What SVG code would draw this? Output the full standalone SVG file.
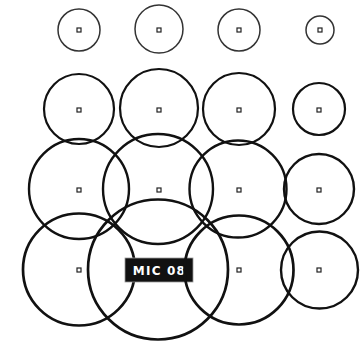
<svg xmlns="http://www.w3.org/2000/svg" width="364" height="341" viewBox="0 0 364 341">
<style>
.c{fill:none;stroke:#111}
.r1{stroke:#333;stroke-width:1.5}
.r2{stroke-width:2.2}
.r3{stroke-width:2.4}
.r4{stroke-width:2.7}
.m{fill:#fff;stroke:#222;stroke-width:1.2}
.lbl{font-family:"DejaVu Sans","Liberation Sans",sans-serif;font-weight:bold;font-size:12px;fill:#fff;letter-spacing:1.2px}
</style>
<rect width="364" height="341" fill="#fff"/>
<g id="row1">
<g id="n11"><circle class="c r1" cx="79" cy="30" r="21"/><rect class="m" x="77" y="28" width="4" height="4"/></g>
<g id="n12"><circle class="c r1" cx="159" cy="29" r="24"/><rect class="m" x="157" y="28" width="4" height="4"/></g>
<g id="n13"><circle class="c r1" cx="239" cy="30" r="21"/><rect class="m" x="237" y="28" width="4" height="4"/></g>
<g id="n14"><circle class="c r1" cx="320" cy="30" r="14"/><rect class="m" x="318" y="28" width="4" height="4"/></g>
</g>
<g id="row2">
<g id="n21"><circle class="c r2" cx="79" cy="109" r="35"/><rect class="m" x="77" y="108" width="4" height="4"/></g>
<g id="n22"><circle class="c r2" cx="159" cy="108" r="39"/><rect class="m" x="157" y="108" width="4" height="4"/></g>
<g id="n23"><circle class="c r2" cx="239" cy="109" r="36"/><rect class="m" x="237" y="108" width="4" height="4"/></g>
<g id="n24"><circle class="c r2" cx="319" cy="109" r="26"/><rect class="m" x="317" y="108" width="4" height="4"/></g>
</g>
<g id="row3">
<g id="n31"><circle class="c r3" cx="79" cy="189" r="50"/><rect class="m" x="77" y="188" width="4" height="4"/></g>
<g id="n32"><circle class="c r3" cx="158" cy="189" r="55"/><rect class="m" x="157" y="188" width="4" height="4"/></g>
<g id="n33"><circle class="c r3" cx="238" cy="189" r="48.5"/><rect class="m" x="237" y="188" width="4" height="4"/></g>
<g id="n34"><circle class="c r3" cx="319" cy="189" r="35"/><rect class="m" x="317" y="188" width="4" height="4"/></g>
</g>
<g id="row4">
<g id="n41"><circle class="c r4" cx="79" cy="269.5" r="56"/><rect class="m" x="77" y="268" width="4" height="4"/></g>
<g id="n42"><circle class="c r4" cx="158" cy="269.5" r="70"/>
<rect x="125" y="258" width="68" height="24" fill="#111" stroke="#999" stroke-width="0.8"/>
<text class="lbl" x="159.5" y="275" text-anchor="middle">MIC 08</text></g>
<g id="n43"><circle class="c r4" cx="239" cy="270" r="54.5"/><rect class="m" x="237" y="268" width="4" height="4"/></g>
<g id="n44"><circle class="c r3" cx="319.5" cy="270" r="38.5"/><rect class="m" x="317" y="268" width="4" height="4"/></g>
</g>
<g id="connectors"/>
</svg>
